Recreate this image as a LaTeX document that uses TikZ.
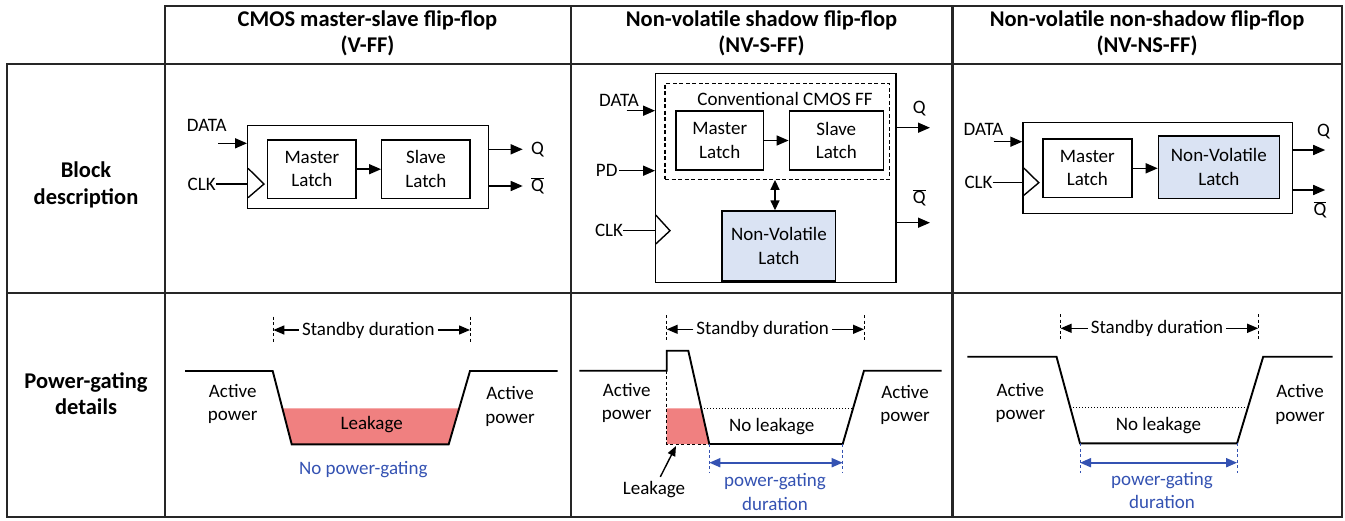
\documentclass[tikz,border=0pt]{standalone}
\usepackage{fontspec}
\setmainfont{Carlito}
\usetikzlibrary{arrows.meta,calc}
\definecolor{nvblue}{RGB}{218,227,243}
\definecolor{pgblue}{RGB}{52,82,178}
\definecolor{leakred}{RGB}{240,128,128}
\definecolor{gridcol}{RGB}{38,38,38}

\tikzset{
  every node/.style={font=\fontsize{19}{23.5}\selectfont, inner sep=0pt},
  hdr/.style={font=\fontsize{22.5}{26}\selectfont\bfseries, align=center},
  tbl/.style={line width=2.4pt, draw=gridcol, line cap=rect},
  blk/.style={draw, line width=1.4pt, align=center},
  latch/.style={blk},
  nvlatch/.style={blk, fill=nvblue},
  arr/.style={line width=1.5pt, -{Triangle[length=12pt,width=10pt]}},
  dblarr/.style={line width=1.5pt, {Triangle[length=10pt,width=9pt]}-{Triangle[length=10pt,width=9pt]}},
  wire/.style={line width=1.4pt},
  curve/.style={line width=1.9pt},
  vmark/.style={line width=0.9pt, dashed, dash pattern=on 3pt off 2.5pt},
  dotline/.style={line width=1pt, dotted},
  sbtext/.style={inner sep=3pt},
  sbarr/.style={line width=1.4pt, -{Triangle[length=11pt,width=9pt]}},
  pgarr/.style={line width=1.8pt, draw=pgblue, {Triangle[length=11pt,width=9pt]}-{Triangle[length=11pt,width=9pt]}},
  pgmark/.style={vmark, draw=pgblue},
  pgtext/.style={text=pgblue, align=center},
  two/.style={align=center},
}

\begin{document}
\begin{tikzpicture}[x=1pt,y=-1pt]
\useasboundingbox (0,0) rectangle (1345,520);

% ---------------- table grid ----------------
\draw[tbl] (165,6) -- (1342,6);
\draw[tbl] (7,64) -- (1342,64);
\draw[tbl] (7,293) -- (1342,293);
\draw[tbl] (7,517) -- (1342,517);
\draw[tbl] (7,64) -- (7,517);
\draw[tbl] (165,6) -- (165,517);
\draw[tbl] (570.7,6) -- (570.7,517);
\draw[tbl] (952.5,6) -- (952.5,517);
\draw[tbl] (1342,6) -- (1342,517);

% ---------------- headers ----------------
\node[hdr, anchor=base] (h1a) at (367.5,26) {CMOS master-slave flip-flop};
\node[hdr, anchor=base] (h1b) at (367.5,52) {(V-FF)};
\node[hdr, anchor=base] (h2a) at (761.5,26) {Non-volatile shadow flip-flop};
\node[hdr, anchor=base] (h2b) at (761.5,52) {(NV-S-FF)};
\node[hdr, anchor=base] (h3a) at (1147,26) {Non-volatile non-shadow flip-flop};
\node[hdr, anchor=base] (h3b) at (1147,52) {(NV-NS-FF)};

\node[hdr, anchor=base] (r1a) at (86,177) {Block};
\node[hdr, anchor=base] (r1b) at (86,204) {description};
\node[hdr, anchor=base] (r2a) at (86,388) {Power-gating};
\node[hdr, anchor=base] (r2b) at (86,414) {details};

% ---------------- V-FF block ----------------
\node[blk, minimum width=240.6pt, minimum height=82.6pt] (o1) at (368,167) {};
\node[latch, minimum width=88.3pt, minimum height=58.3pt] (m1) at (311.9,169.2) {Master\\Latch};
\node[latch, minimum width=88.3pt, minimum height=58.3pt] (s1) at (425.9,169.2) {Slave\\Latch};
\draw[arr] (m1.east) -- (s1.west);
\node (d1) at (206.7,125) {DATA};
\coordinate (d1s) at (218,143.3);
\draw[arr] (d1s) -- (d1s -| o1.west);
\node (c1) at (201.7,184) {CLK};
\draw[wire] (c1.east) -- (c1.east -| o1.west);
\draw[wire] (248,168.3) -- (264,184) -- (248,197.7);
\coordinate (q1e) at (522.7,149.3);
\draw[arr] (q1e -| o1.east) -- (q1e);
\node (q1) at (537.5,149.3) {Q};
\coordinate (qb1e) at (522.7,186);
\draw[arr] (qb1e -| o1.east) -- (qb1e);
\node (qb1) at (537.5,186) {$\overline{\hbox{Q}}$};

% ---------------- NV-S-FF block ----------------
\node[blk, minimum width=240.3pt, minimum height=209.4pt] (o2) at (775.9,178) {};
\node[draw, line width=1.2pt, dashed, dash pattern=on 4pt off 2.5pt, minimum width=224.3pt, minimum height=96pt] (cf2) at (777.2,131.3) {};
\node (cft) at (785,99.3) {Conventional CMOS FF};
\node[latch, minimum width=87.3pt, minimum height=59pt] (m2) at (719.7,140.5) {Master\\Latch};
\node[latch, minimum width=94pt, minimum height=59pt] (s2) at (836.3,140.5) {Slave\\Latch};
\draw[arr] (m2.east) -- (s2.west);
\node[nvlatch, minimum width=113.7pt, minimum height=70pt] (nv2) at (778.9,246) {Non-Volatile\\Latch};
\coordinate (lnk) at (775,0);
\draw[dblarr] (cf2.south -| lnk) -- (nv2.north -| lnk);
\node (d2) at (619,100.7) {DATA};
\coordinate (d2s) at (626.7,110.7);
\draw[arr] (d2s) -- (d2s -| o2.west);
\node (p2) at (606.7,170.7) {PD};
\coordinate (p2s) at (619,170.7);
\draw[arr] (p2s) -- (p2s -| o2.west);
\node (c2) at (609,230.7) {CLK};
\draw[wire] (c2.east) -- (c2.east -| o2.west);
\draw[wire] (655.7,215) -- (670,230.7) -- (655.7,244);
\coordinate (q2e) at (930,127.7);
\draw[arr] (q2e -| o2.east) -- (q2e);
\node (q2) at (919.3,108.3) {Q};
\coordinate (qb2e) at (930,222.7);
\draw[arr] (qb2e -| o2.east) -- (qb2e);
\node (qb2) at (919.3,198) {$\overline{\hbox{Q}}$};

% ---------------- NV-NS-FF block ----------------
\node[blk, minimum width=269.4pt, minimum height=90.6pt] (o3) at (1157.7,168) {};
\node[latch, minimum width=89.1pt, minimum height=58.3pt] (m3) at (1087.35,168.15) {Master\\Latch};
\node[nvlatch, minimum width=120.9pt, minimum height=62.3pt] (nv3) at (1218.85,167.15) {Non-Volatile\\Latch};
\draw[arr] (m3.east |- 0,168.3) -- (nv3.west |- 0,168.3);
\node (d3) at (983.5,129.3) {DATA};
\coordinate (d3s) at (993.5,141.7);
\draw[arr] (d3s) -- (d3s -| o3.west);
\node (c3) at (978.5,182.7) {CLK};
\draw[wire] (c3.east) -- (c3.east -| o3.west);
\draw[wire] (1023,167.3) -- (1038.8,182.7) -- (1023,196);
\coordinate (q3e) at (1325.2,150);
\draw[arr] (q3e -| o3.east) -- (q3e);
\node (q3) at (1323.5,132) {Q};
\coordinate (qb3e) at (1325.2,190);
\draw[arr] (qb3e -| o3.east) -- (qb3e);
\node (qb3) at (1320,210) {$\overline{\hbox{Q}}$};

% ---------------- power profile: V-FF ----------------
\fill[leakred] (282.4,408.3) -- (291.7,444.3) -- (448.7,444.3) -- (459.2,408.3) -- cycle;
\draw[curve] (185,371) -- (272.7,371) -- (291.7,444.3) -- (448.7,444.3) -- (470,371) -- (557.7,371);
\coordinate (sb1l) at (273.3,316.7);
\coordinate (sb1r) at (470,316.7);
\draw[vmark] (sb1l) -- ++(0,25);
\draw[vmark] (sb1r) -- ++(0,25);
\node[sbtext] (sb1) at (368.3,330) {Standby duration};
\draw[sbarr] (sb1.west) -- (sb1.west -| sb1l);
\draw[sbarr] (sb1.east) -- (sb1.east -| sb1r);
\node (lk1) at (371.7,425) {Leakage};
\node[two] (ap1l) at (232.7,404) {Active\\power};
\node[two] (ap1r) at (510,406.5) {Active\\power};
\node[pgtext] (npg1) at (363.3,470) {No power-gating};

% ---------------- power profile: NV-S-FF ----------------
\fill[leakred] (666.7,408.3) -- (701.3,408.3) -- (709.3,444) -- (666.7,444) -- cycle;
\draw[vmark, line width=1pt] (666.7,370.7) -- (666.7,444) -- (709.3,444);
\draw[curve] (579.3,370.7) -- (666.7,370.7) -- (666.7,350.7) -- (688.3,350.7) -- (709.3,444) -- (842.7,444) -- (864,370.7) -- (941.7,370.7);
\draw[dotline] (701.3,408.3) -- (853,408.3);
\coordinate (sb2l) at (666.7,315);
\coordinate (sb2r) at (864,315);
\draw[vmark] (sb2l) -- ++(0,27);
\draw[vmark] (sb2r) -- ++(0,27);
\node[sbtext] (sb2) at (762.7,329.3) {Standby duration};
\draw[sbarr] (sb2.west) -- (sb2.west -| sb2l);
\draw[sbarr] (sb2.east) -- (sb2.east -| sb2r);
\node (nl2) at (771.7,426.7) {No leakage};
\node[two] (ap2l) at (626.7,403) {Active\\power};
\node[two] (ap2r) at (905,405) {Active\\power};
\node[inner sep=4pt] (lk2) at (654,489.3) {Leakage};
\coordinate (lk2t) at (676,446);
\draw[line width=1.4pt, -{Triangle[length=10pt,width=8pt]}] (lk2) -- (lk2t);
\coordinate (pg2l) at (709.3,444);
\coordinate (pg2r) at (842.7,444);
\draw[pgmark] (pg2l) -- ++(0,29);
\draw[pgmark] (pg2r) -- ++(0,29);
\draw[pgarr] ($(pg2l)+(0,18.7)$) -- ($(pg2r)+(0,18.7)$);
\node[pgtext] (pgd2) at (775,492) {power-gating\\duration};

% ---------------- power profile: NV-NS-FF ----------------
\draw[curve] (967.4,356.7) -- (1056.5,356.7) -- (1080,443.3) -- (1237.1,443.3) -- (1263.2,356.7) -- (1332.6,356.7);
\draw[dotline] (1070.2,407.3) -- (1248,407.3);
\coordinate (sb3l) at (1060.6,314);
\coordinate (sb3r) at (1258.2,314);
\draw[vmark] (sb3l) -- ++(0,26);
\draw[vmark] (sb3r) -- ++(0,26);
\node[sbtext] (sb3) at (1157,328.3) {Standby duration};
\draw[sbarr] (sb3.west) -- (sb3.west -| sb3l);
\draw[sbarr] (sb3.east) -- (sb3.east -| sb3r);
\node (nl3) at (1158.4,426) {No leakage};
\node[two] (ap3l) at (1020.4,403) {Active\\power};
\node[two] (ap3r) at (1300,404.5) {Active\\power};
\coordinate (pg3l) at (1080,443.3);
\coordinate (pg3r) at (1237.1,443.3);
\draw[pgmark] (pg3l) -- ++(0,29.4);
\draw[pgmark] (pg3r) -- ++(0,29.4);
\draw[pgarr] ($(pg3l)+(0,19.4)$) -- ($(pg3r)+(0,19.4)$);
\node[pgtext] (pgd3) at (1162,490.5) {power-gating\\duration};
\end{tikzpicture}
\end{document}
